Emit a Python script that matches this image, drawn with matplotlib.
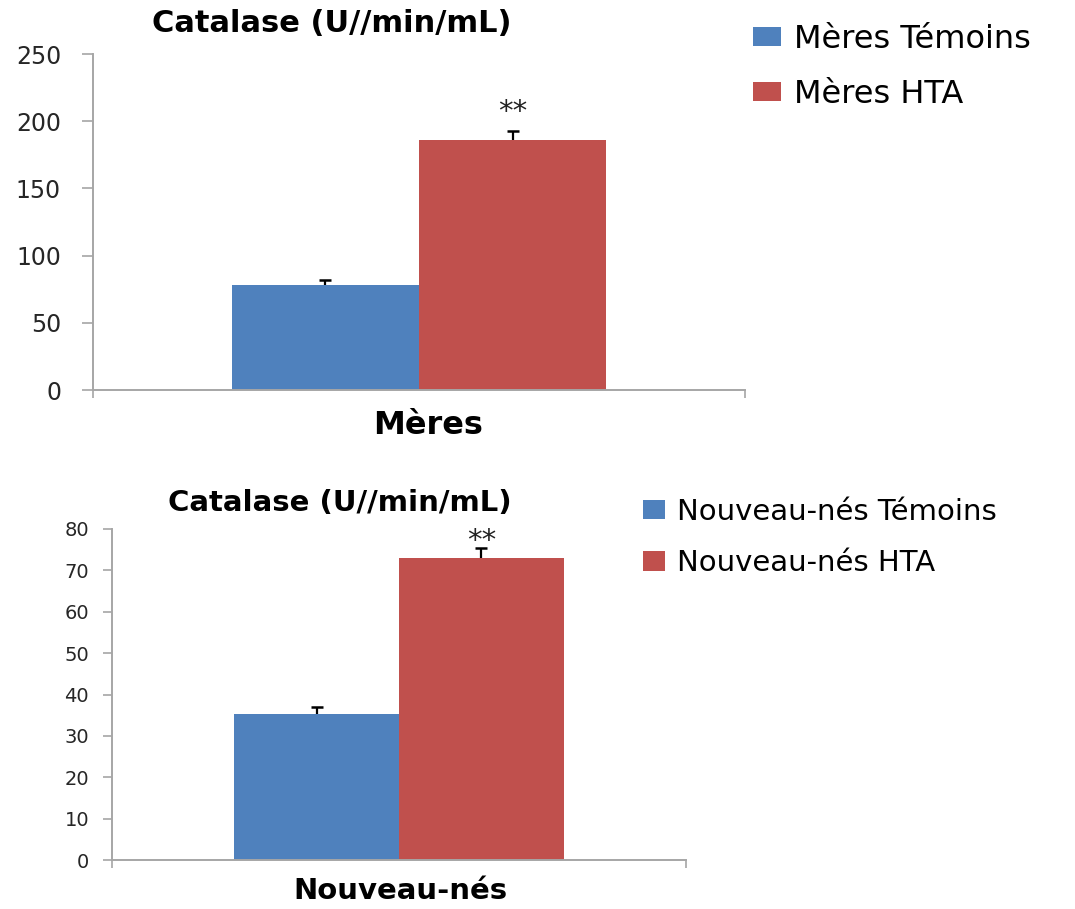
import matplotlib
matplotlib.use("Agg")
import matplotlib.pyplot as plt
from matplotlib.patches import Patch

plt.rcParams["font.family"] = ["DejaVu Sans"]

W, H = 1075, 909

# data
title = "Catalase (U//min/mL)"

meres_cat = "Mères"
meres_labels = ["Mères Témoins", "Mères HTA"]
meres_vals = [78, 186]
meres_err = [3.5, 7]
meres_ticks = [0, 50, 100, 150, 200, 250]

nn_cat = "Nouveau-nés"
nn_labels = ["Nouveau-nés Témoins", "Nouveau-nés HTA"]
nn_vals = [35.2, 73]
nn_err = [1.8, 2.4]
nn_ticks = [0, 10, 20, 30, 40, 50, 60, 70, 80]

signif = ["", "**"]

colors = ["#4F81BD", "#C0504D"]
axis_grey = "#a6a6a6"


def px_axes(fig, left, top, right, bottom):
    return fig.add_axes([left / W, 1 - bottom / H, (right - left) / W, (bottom - top) / H])


def draw_panel(ax, vals, errs, ticks, star_off, tick_fs, tick_len, tick_pad):
    w = 0.287
    xs = [-w / 2, w / 2]
    for x, v, e, c in zip(xs, vals, errs, colors):
        ax.bar(x, v, width=w, color=c, edgecolor="none", zorder=2)
        # only the upper half of the error bar shows, Excel style
        ax.vlines(x, v, v + e, color="black", lw=1.6, zorder=3)
        ax.plot(x, v + e, marker="_", ms=9, mew=1.8, color="black", zorder=3)
    for x, v, e, s in zip(xs, vals, errs, signif):
        if s:
            ax.annotate(s, (x, v + e), xytext=(0, star_off), textcoords="offset points",
                        ha="center", va="baseline", fontsize=21, color="#222222")
    ax.set_xlim(-0.5, 0.5)
    ax.set_ylim(ticks[0], ticks[-1])
    ax.set_yticks(ticks)
    ax.set_xticks([-0.5, 0.5])
    ax.set_xticklabels([])
    ax.tick_params(axis="y", length=tick_len, width=1.2, color=axis_grey, labelsize=tick_fs,
                   labelcolor="#262626", pad=tick_pad)
    ax.tick_params(axis="x", length=6, width=1.2, color=axis_grey)
    for sp in ["top", "right"]:
        ax.spines[sp].set_visible(False)
    for sp in ["left", "bottom"]:
        ax.spines[sp].set_color(axis_grey)
        ax.spines[sp].set_linewidth(1.4)


fig = plt.figure(figsize=(W / 100, H / 100), dpi=100)
handles = [Patch(facecolor=c) for c in colors]

# mothers
ax1 = px_axes(fig, 93, 54, 745, 390)
draw_panel(ax1, meres_vals, meres_err, meres_ticks, 7.5, 17, 8, 15)
fig.text(332 / W, 1 - 24 / H, title, ha="center", va="center", fontsize=22, fontweight="bold")
fig.text(428 / W, 1 - 426 / H, meres_cat, ha="center", va="center", fontsize=23, fontweight="bold")
fig.legend(handles, meres_labels, loc="upper left", bbox_to_anchor=(753 / W, 1 - 24 / H),
           frameon=False, fontsize=23, handlelength=0.88, handleheight=0.53,
           handletextpad=0.41, labelspacing=0.75, borderpad=0, borderaxespad=0)

# newborns
ax2 = px_axes(fig, 112, 529, 686, 860)
draw_panel(ax2, nn_vals, nn_err, nn_ticks, -0.5, 14, 6.5, 10)
fig.text(340 / W, 1 - 503 / H, title, ha="center", va="center", fontsize=21, fontweight="bold")
fig.text(400 / W, 1 - 891 / H, nn_cat, ha="center", va="center", fontsize=21, fontweight="bold")
fig.legend(handles, nn_labels, loc="upper left", bbox_to_anchor=(643 / W, 1 - 498 / H),
           frameon=False, fontsize=21, handlelength=0.75, handleheight=0.65,
           handletextpad=0.41, labelspacing=0.8, borderpad=0, borderaxespad=0)

fig.savefig("out.png", dpi=100)
